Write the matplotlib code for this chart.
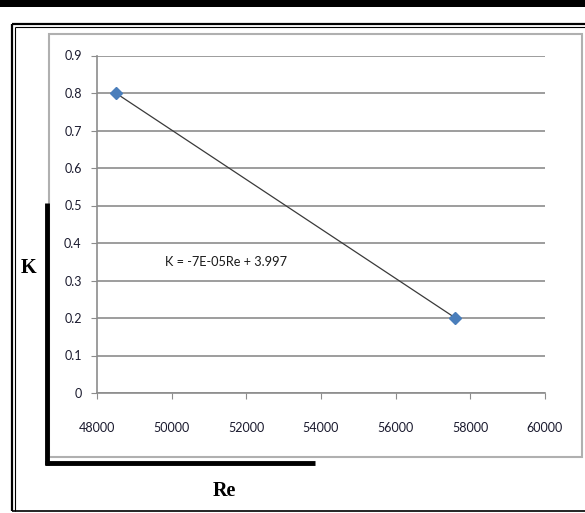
import matplotlib.pyplot as plt
from matplotlib.lines import Line2D
from matplotlib.patches import Rectangle

# data
re_vals = [48500, 57600]
k_vals = [0.8, 0.2]
x_ticks = [48000, 50000, 52000, 54000, 56000, 58000, 60000]
y_ticks = [0, 0.1, 0.2, 0.3, 0.4, 0.5, 0.6, 0.7, 0.8, 0.9]
equation = "K = -7E-05Re + 3.997"

W, H = 585, 513
fig = plt.figure(figsize=(W / 100, H / 100), dpi=100)


def fx(px):
    return px / W


def fy(py):
    return 1 - py / H


def hline(x0, x1, y, lw, color="black"):
    fig.add_artist(Line2D([fx(x0), fx(x1)], [fy(y), fy(y)], lw=lw, color=color,
                          transform=fig.transFigure, solid_capstyle="butt"))


def vline(x, y0, y1, lw, color="black"):
    fig.add_artist(Line2D([fx(x), fx(x)], [fy(y0), fy(y1)], lw=lw, color=color,
                          transform=fig.transFigure, solid_capstyle="butt"))


# page decorations
fig.add_artist(Rectangle((0, fy(7)), 1, 7 / H, transform=fig.transFigure,
                         color="black", lw=0))
hline(12, 585, 24, 1.6)
hline(15, 585, 27, 0.8)
vline(12, 24, 511, 1.6)
vline(15, 27, 511, 0.8)
hline(12, 585, 511, 1.2)

# chart area box
fig.add_artist(Rectangle((fx(49), fy(457)), fx(582) - fx(49), fy(34) - fy(457),
                         transform=fig.transFigure, fill=False,
                         ec="#b0b0b0", lw=1.5))
# thick L bracket
vline(47, 203, 465, 3.5)
hline(45, 315, 462.5, 3.5)

ax = fig.add_axes([fx(97), fy(393), fx(545) - fx(97), fy(55.5) - fy(393)])
ax.set_xlim(48000, 60000)
ax.set_ylim(0, 0.9)
ax.set_xticks(x_ticks)
ax.set_yticks(y_ticks)
ax.set_yticklabels([f"{v:g}" for v in y_ticks])
ax.set_xticklabels([str(v) for v in x_ticks])

for s in ["top", "right"]:
    ax.spines[s].set_visible(False)
for s in ["left", "bottom"]:
    ax.spines[s].set_color("#8c8c8c")
    ax.spines[s].set_linewidth(1.2)

ax.yaxis.grid(True, color="#8c8c8c", lw=1.2)
ax.set_axisbelow(True)
ax.tick_params(axis="both", direction="out", length=4, color="#8c8c8c",
               labelsize=9, labelcolor="#1a1a2e")
ax.tick_params(axis="x", pad=17)
ax.tick_params(axis="y", pad=7)
for lab in ax.get_xticklabels() + ax.get_yticklabels():
    lab.set_family("Lato")

ax.plot(re_vals, k_vals, color="#3a3a3a", lw=0.9, zorder=3)
ax.plot(re_vals, k_vals, ls="none", marker="D", ms=6.5, color="#4a7ebb",
        zorder=4, clip_on=False)

ax.text(49820, 0.349, equation, fontsize=9.2, family="Lato", va="center",
        ha="left", color="#1a1a1a")

fig.text(fx(28), fy(268), "K", fontsize=14.5, fontweight="bold",
         family="Liberation Serif", ha="center", va="center")
fig.text(fx(224), fy(491), "Re", fontsize=14.5, fontweight="bold",
         family="Liberation Serif", ha="center", va="center")

fig.savefig("out.png", dpi=100)
